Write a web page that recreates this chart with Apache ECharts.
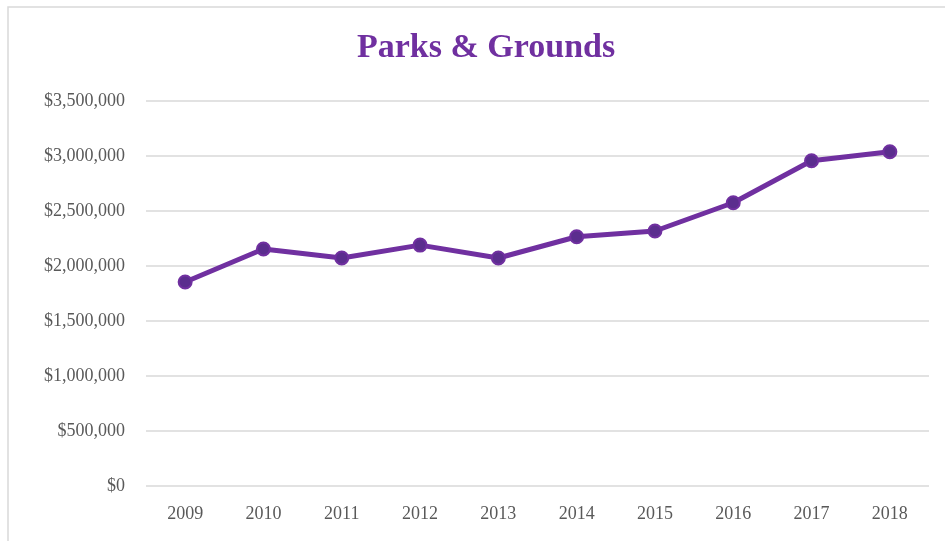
<!DOCTYPE html>
<html>
<head>
<meta charset="utf-8">
<script src="https://cdn.jsdelivr.net/npm/echarts@6/dist/echarts.min.js"></script>
<style>
  html, body { margin: 0; padding: 0; background: #fff; }
  #chart { width: 945px; height: 541px; }
</style>
</head>
<body>
<div id="chart"></div>
<script>
// data
var years = ["2009", "2010", "2011", "2012", "2013", "2014", "2015", "2016", "2017", "2018"];
var spending = [1855000, 2155000, 2073000, 2190000, 2073000, 2266000, 2318000, 2575000, 2957000, 3039000];

var myChart = echarts.init(document.getElementById("chart"));

var serif = "'Liberation Serif', 'DejaVu Serif', serif";

var option = {
  backgroundColor: "#fff",
  animation: false,
  graphic: [
    {
      type: "rect",
      shape: { x: 8, y: 7, width: 945, height: 545 },
      style: { fill: "none", stroke: "#d9d9d9", lineWidth: 1.5 },
      silent: true
    }
  ],
  title: {
    text: "Parks & Grounds",
    left: 352,
    top: 26,
    textStyle: {
      color: "#7030a0",
      fontFamily: serif,
      fontWeight: "bold",
      fontSize: 34
    }
  },
  grid: {
    left: 146,
    right: 16,
    top: 101,
    bottom: 55
  },
  xAxis: {
    type: "category",
    data: years,
    boundaryGap: true,
    axisLine: { show: false },
    axisTick: { show: false },
    axisLabel: {
      color: "#595959",
      fontFamily: serif,
      fontSize: 18,
      margin: 19
    }
  },
  yAxis: {
    type: "value",
    min: 0,
    max: 3500000,
    interval: 500000,
    axisLine: { show: false },
    axisTick: { show: false },
    splitLine: { lineStyle: { color: "#d9d9d9", width: 1.5 } },
    axisLabel: {
      color: "#595959",
      fontFamily: serif,
      fontSize: 18,
      margin: 21,
      formatter: function (v) {
        return "$" + v.toLocaleString("en-US");
      }
    }
  },
  series: [
    {
      name: "Parks & Grounds",
      type: "line",
      data: spending,
      symbol: "circle",
      symbolSize: 13,
      lineStyle: { color: "#7030a0", width: 5 },
      itemStyle: { color: "#5b2d8e", borderColor: "#7030a0", borderWidth: 2 }
    }
  ]
};

myChart.setOption(option);
</script>
</body>
</html>
